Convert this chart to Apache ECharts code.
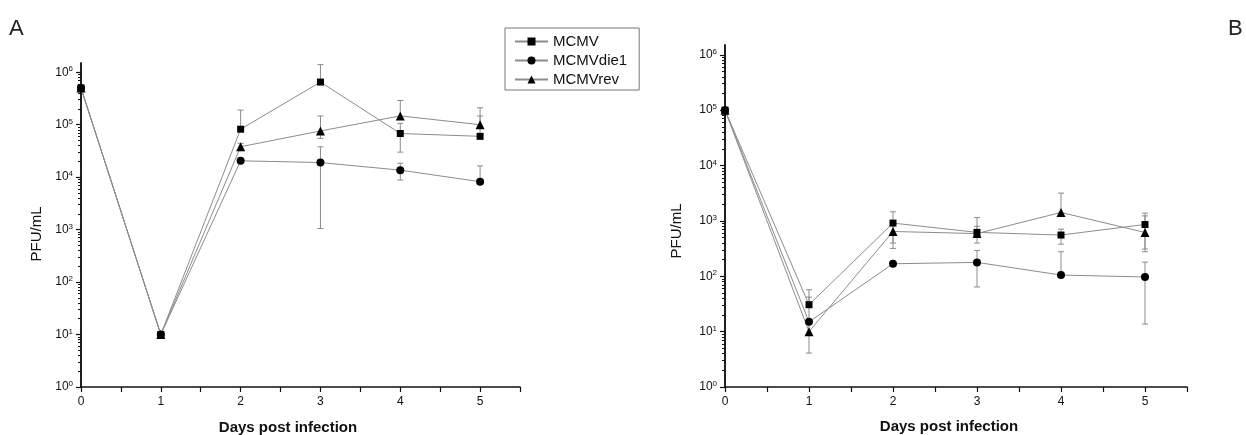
<!DOCTYPE html>
<html>
<head>
<meta charset="utf-8">
<script src="https://cdn.jsdelivr.net/npm/echarts@6/dist/echarts.min.js"></script>
<style>
html, body { margin: 0; padding: 0; background: #fff; }
#chart { width: 1246px; height: 435px; }
</style>
</head>
<body>
<div id="chart"></div>
<script>
// Days post infection and the three virus strains
const days = [0, 1, 2, 3, 4, 5];
const strainNames = ['MCMV', 'MCMVdie1', 'MCMVrev'];
const strainSymbols = ['rect', 'circle', 'triangle'];

// Panel A titres (PFU/mL) with error-bar bounds (null = bar not drawn on that side)
const aMCMV      = [5e5, 10, 8.2e4, 6.5e5, 6.8e4, 6.0e4];
const aMCMVLow   = [null, null, null, null, 3.0e4, null];
const aMCMVHigh  = [null, null, 1.9e5, 1.4e6, 1.06e5, 1.47e5];
const aDie1      = [5e5, 10, 2.05e4, 1.9e4, 1.36e4, 8.2e3];
const aDie1Low   = [null, null, null, 1.05e3, 8.8e3, null];
const aDie1High  = [null, null, null, 3.8e4, 1.84e4, 1.64e4];
const aRev       = [5e5, 10, 3.8e4, 7.6e4, 1.47e5, 1.0e5];
const aRevLow    = [null, null, 3.2e4, 5.5e4, null, null];
const aRevHigh   = [null, null, 4.4e4, 1.47e5, 2.9e5, 2.1e5];

// Panel B titres (PFU/mL) with error-bar bounds
const bMCMV      = [1e5, 30.6, 912, 620, 555, 861];
const bMCMVLow   = [null, null, 398, null, 380, 310];
const bMCMVHigh  = [null, 57, 1460, 1150, 710, 1380];
const bDie1      = [1e5, 15, 168, 178, 105, 97];
const bDie1Low   = [null, null, null, 64, null, 13.7];
const bDie1High  = [null, 42, null, 292, 277, 180];
const bRev       = [1e5, 10, 643, 590, 1420, 617];
const bRevLow    = [null, 4.1, 318, 398, null, 277];
const bRevHigh   = [null, 16, 970, 800, 3170, 1230];

// Axis ticks
const yMajorTicks = [1, 10, 100, 1e3, 1e4, 1e5, 1e6];
const xLabelTicks = [0, 1, 2, 3, 4, 5];
const yMax = 1.5e6;

const FONT = "'Liberation Sans', Arial, sans-serif";
const AXIS_COLOR = '#111';
const LINE_GRAY = '#8c8c8c';

const yMinorTicks = [];
for (let k = 0; k < 6; k++) {
  for (let m = 2; m <= 9; m++) yMinorTicks.push(m * Math.pow(10, k));
}

function powerLabel(v) {
  const e = Math.round(Math.log10(v));
  return '{b|10}{s|' + e + '}';
}

function xAxisFor(gridIndex) {
  return {
    type: 'value', gridIndex: gridIndex, min: 0, max: 5.5, interval: 0.5,
    axisLine: { lineStyle: { color: AXIS_COLOR, width: 1.5 } },
    axisTick: { length: 5, lineStyle: { color: AXIS_COLOR, width: 1.2 } },
    axisLabel: { customValues: xLabelTicks, fontSize: 12, fontFamily: FONT, color: AXIS_COLOR, margin: 9 },
    splitLine: { show: false }
  };
}

function yAxesFor(gridIndex) {
  return [{
    // minor ticks at 2..9 of every decade
    type: 'log', logBase: 10, gridIndex: gridIndex, min: 1, max: yMax, position: 'left', offset: 0,
    axisLine: { show: true, lineStyle: { color: AXIS_COLOR, width: 1.5 } },
    axisTick: { show: true, customValues: yMinorTicks, length: 3, lineStyle: { color: AXIS_COLOR, width: 1 } },
    axisLabel: { show: false },
    splitLine: { show: false }
  }, {
    type: 'log', logBase: 10, gridIndex: gridIndex, min: 1, max: yMax, position: 'left', offset: 0,
    axisLine: { show: true, lineStyle: { color: AXIS_COLOR, width: 1.5 } },
    axisTick: { show: true, customValues: yMajorTicks, length: 5, lineStyle: { color: AXIS_COLOR, width: 1.2 } },
    axisLabel: {
      customValues: yMajorTicks, margin: 8, formatter: powerLabel,
      rich: {
        b: { fontSize: 12, fontFamily: FONT, color: AXIS_COLOR, lineHeight: 14 },
        s: { fontSize: 8, fontFamily: FONT, color: AXIS_COLOR, verticalAlign: 'top', lineHeight: 8, padding: [0, 0, 6, 0] }
      }
    },
    splitLine: { show: false }
  }];
}

function lineSeries(name, symbol, values, xAxisIndex, yAxisIndex) {
  return {
    name: name, type: 'line', xAxisIndex: xAxisIndex, yAxisIndex: yAxisIndex,
    data: days.map((d, i) => [d, values[i]]),
    symbol: symbol,
    symbolSize: symbol === 'rect' ? 7 : (symbol === 'circle' ? 8 : 9),
    itemStyle: { color: '#000' },
    lineStyle: { color: LINE_GRAY, width: 1 },
    z: 3
  };
}

function errorSeries(values, lows, highs, xAxisIndex, yAxisIndex) {
  const data = [];
  days.forEach((d, i) => {
    const hasLo = lows[i] != null, hasHi = highs[i] != null;
    if (!hasLo && !hasHi) return;
    data.push([d, hasLo ? lows[i] : values[i], hasHi ? highs[i] : values[i], hasLo ? 1 : 0, hasHi ? 1 : 0]);
  });
  return {
    type: 'custom', xAxisIndex: xAxisIndex, yAxisIndex: yAxisIndex, z: 2,
    silent: true,
    encode: { x: 0, y: [1, 2] },
    data: data,
    renderItem: function (params, api) {
      const x = api.value(0);
      const pLo = api.coord([x, api.value(1)]);
      const pHi = api.coord([x, api.value(2)]);
      const cap = 3;
      const style = { stroke: LINE_GRAY, lineWidth: 1 };
      const children = [{ type: 'line', shape: { x1: pLo[0], y1: pLo[1], x2: pHi[0], y2: pHi[1] }, style: style }];
      if (api.value(3)) children.push({ type: 'line', shape: { x1: pLo[0] - cap, y1: pLo[1], x2: pLo[0] + cap, y2: pLo[1] }, style: style });
      if (api.value(4)) children.push({ type: 'line', shape: { x1: pHi[0] - cap, y1: pHi[1], x2: pHi[0] + cap, y2: pHi[1] }, style: style });
      return { type: 'group', children: children };
    }
  };
}

const panelA = [[aMCMV, aMCMVLow, aMCMVHigh], [aDie1, aDie1Low, aDie1High], [aRev, aRevLow, aRevHigh]];
const panelB = [[bMCMV, bMCMVLow, bMCMVHigh], [bDie1, bDie1Low, bDie1High], [bRev, bRevLow, bRevHigh]];

const series = [];
[panelA, panelB].forEach((panel, p) => {
  const yIdx = p * 2 + 1;
  panel.forEach((s) => {
    series.push(errorSeries(s[0], s[1], s[2], p, yIdx));
  });
  panel.forEach((s, k) => {
    series.push(lineSeries(strainNames[k], strainSymbols[k], s[0], p, yIdx));
  });
});

const chart = echarts.init(document.getElementById('chart'), null, { renderer: 'canvas' });
chart.setOption({
  backgroundColor: '#fff',
  animation: false,
  grid: [
    { left: 81, right: 726, top: 63, bottom: 48 },
    { left: 725, right: 59, top: 45, bottom: 48 }
  ],
  xAxis: [xAxisFor(0), xAxisFor(1)],
  yAxis: yAxesFor(0).concat(yAxesFor(1)),
  legend: {
    data: strainNames,
    orient: 'vertical',
    left: 505, top: 28,
    itemWidth: 33, itemHeight: 10, itemGap: 4,
    padding: [6, 12, 3, 9],
    borderColor: '#777', borderWidth: 1,
    selectedMode: false,
    textStyle: { fontSize: 15, fontFamily: FONT, color: '#111' }
  },
  graphic: [
    { type: 'text', left: 9, top: 18, style: { text: 'A', font: '22px ' + FONT, fill: '#222' } },
    { type: 'text', left: 1228, top: 18, style: { text: 'B', font: '22px ' + FONT, fill: '#222' } },
    { type: 'text', x: 37, y: 234, rotation: Math.PI / 2,
      style: { text: 'PFU/mL', font: '15px ' + FONT, fill: '#111', align: 'center', verticalAlign: 'middle' } },
    { type: 'text', x: 677, y: 231, rotation: Math.PI / 2,
      style: { text: 'PFU/mL', font: '15px ' + FONT, fill: '#111', align: 'center', verticalAlign: 'middle' } },
    { type: 'text', x: 288, y: 428,
      style: { text: 'Days post infection', font: 'bold 15px ' + FONT, fill: '#111', align: 'center', verticalAlign: 'middle' } },
    { type: 'text', x: 949, y: 427,
      style: { text: 'Days post infection', font: 'bold 15px ' + FONT, fill: '#111', align: 'center', verticalAlign: 'middle' } }
  ],
  series: series
});
</script>
</body>
</html>
